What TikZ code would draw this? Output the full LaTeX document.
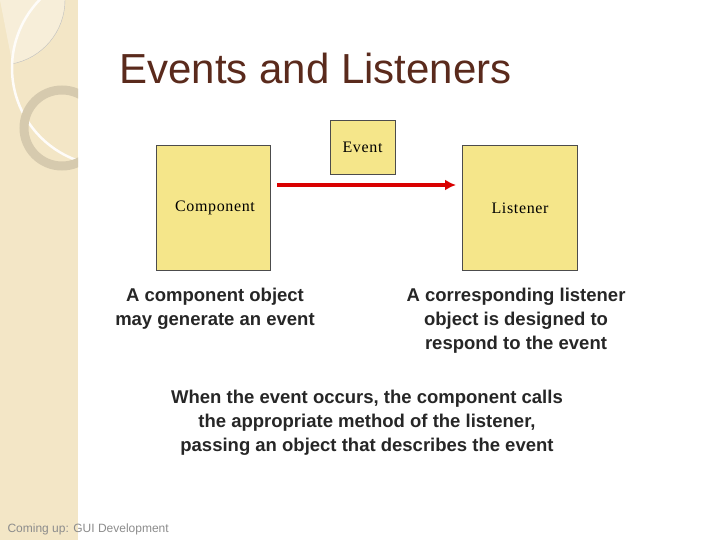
\documentclass[tikz,border=0pt]{standalone}
\usetikzlibrary{arrows.meta}
\usepackage{fontspec}
\setmainfont{Liberation Sans}
\newfontfamily\serifx{Liberation Serif}[LetterSpace=4]
\begin{document}
\begin{tikzpicture}[x=1pt,y=-1pt,
  obox/.style={draw=black!70,fill=yellowbox,line width=0.8pt,inner sep=0},
  body/.style={font=\fontsize{18.5}{24}\selectfont\bfseries,text=black!85,align=center},
  lbl/.style={font=\serifx\fontsize{16}{18}\selectfont}]
\definecolor{yellowbox}{HTML}{F5E68A}
\definecolor{strip}{HTML}{F3E6C6}
\definecolor{titlec}{HTML}{5A2A1C}
\useasboundingbox (0,0) rectangle (720,540);
\fill[white] (0,0) rectangle (720,540);
\begin{scope}
\clip (0,0) rectangle (78,540);
\fill[strip] (0,0) rectangle (78,540);
\fill[white,opacity=0.35] (0,0) -- (65,0) arc[start angle=0,end angle=79,radius=65] -- cycle;
\draw[black!25,line width=0.4pt] (65,0) arc[start angle=0,end angle=80,radius=65];
\draw[white!90!strip,line width=2.5pt] (110,68) circle[radius=98];
\draw[black!12!strip,line width=9pt] (62,128) circle[radius=38];
\end{scope}
\node[anchor=west,text=titlec,font=\fontsize{42}{46}\selectfont] (title) at (116,68) {Events and Listeners};
\node[obox,minimum width=114,minimum height=125] (comp) at (213,207.5) {};
\node[obox,minimum width=115,minimum height=125] (lis) at (519.5,207.5) {};
\node[obox,minimum width=65,minimum height=54,lbl] (ev) at (362.5,147) {Event};
\node[lbl] (ct) at (215,208) {Component};
\node[lbl] (lt) at (520,208) {Listener};
\coordinate (a1) at (277,185);
\coordinate (a2) at (456,185);
\draw[red!85!black,line width=3.5pt,-{Latex[length=11pt,width=11pt]}] (a1) -- (a2);
\node[body] (d1) at (215,309) {A component object\\may generate an event};
\node[body] (d2) at (516,321) {A corresponding listener\\object is designed to\\respond to the event};
\node[body] (d3) at (367,423) {When the event occurs, the component calls\\the appropriate method of the listener,\\passing an object that describes the event};
\node[anchor=west,text=black!45,font=\fontsize{12}{13}\selectfont] (foot) at (4,529) {Coming up: GUI Development};
\end{tikzpicture}
\end{document}
